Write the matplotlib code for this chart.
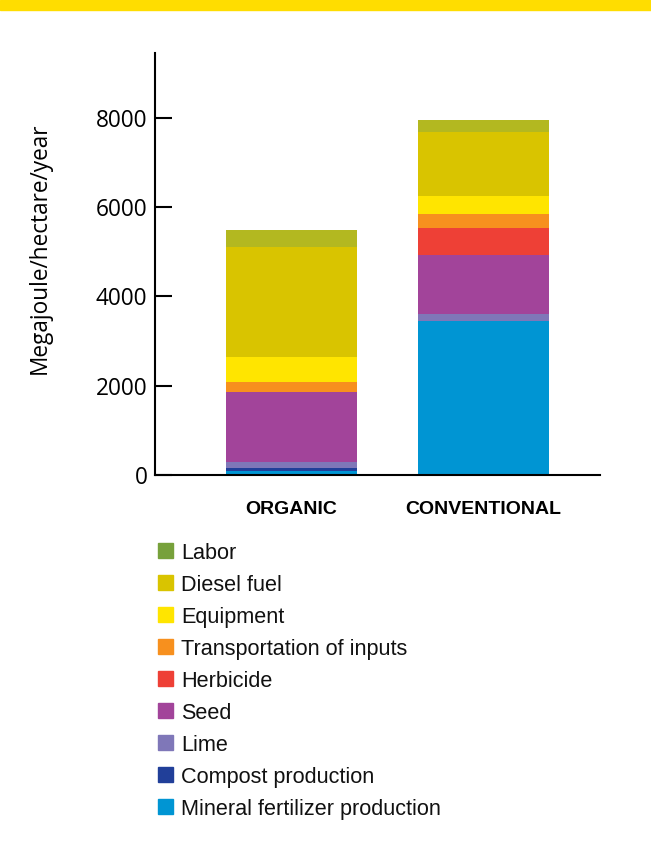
import matplotlib
matplotlib.use("Agg")
import matplotlib.pyplot as plt
from matplotlib.patches import Rectangle

categories = ["ORGANIC", "CONVENTIONAL"]
components = ["Mineral fertilizer production", "Compost production", "Lime", "Seed",
              "Herbicide", "Transportation of inputs", "Equipment", "Diesel fuel", "Labor"]
organic = [85, 70, 140, 1570, 0, 225, 560, 2450, 380]
conventional = [3440, 0, 160, 1330, 600, 315, 405, 1440, 270]
bar_colors = ["#0095d3", "#213f99", "#7f77b8", "#a2449a", "#ee4036", "#f7901e",
              "#ffe500", "#d9c400", "#b3b820"]
legend_colors = ["#0095d3", "#213f99", "#7f77b8", "#a2449a", "#ee4036", "#f7901e",
                 "#ffe500", "#d9c400", "#77a13b"]
yticks = [0, 2000, 4000, 6000, 8000]

W, H = 651, 849
fig = plt.figure(figsize=(W / 100, H / 100), dpi=100)
fig.patches.append(Rectangle((0, 1 - 10 / H), 1, 10 / H, transform=fig.transFigure,
                             color="#ffdd00", zorder=0))

ax = fig.add_axes([155 / W, 1 - 475 / H, (600 - 155) / W, (475 - 53) / H])
x = [0, 1]
bottoms = [0, 0]
for i, comp in enumerate(components):
    vals = [organic[i], conventional[i]]
    ax.bar(x, vals, width=0.68, bottom=bottoms, color=bar_colors[i], linewidth=0)
    bottoms = [b + v for b, v in zip(bottoms, vals)]

ax.set_xlim(-0.711, 1.607)
ax.set_ylim(0, 9450)
ax.spines["top"].set_visible(False)
ax.spines["right"].set_visible(False)
ax.spines["left"].set_linewidth(1.5)
ax.spines["bottom"].set_linewidth(1.5)
ax.set_yticks(yticks)
ax.set_yticklabels([str(t) for t in yticks], fontfamily="Open Sans", fontsize=16.3)
ax.tick_params(axis="y", direction="in", length=12, width=1.5, pad=5.5)
ax.set_xticks(x)
ax.set_xticklabels(categories, fontfamily="Liberation Sans", fontweight="bold", fontsize=14)
ax.tick_params(axis="x", length=0, pad=19)
ax.set_ylabel("Megajoule/hectare/year", fontfamily="Open Sans", fontsize=16.3)
ax.yaxis.set_label_coords(-(155 - 52) / 445, (475 - 248) / 422)

rows_y = [550, 582, 614, 646, 678, 710, 742, 774, 806]
for j, idx in enumerate(range(len(components) - 1, -1, -1)):
    yc = rows_y[j]
    fig.patches.append(Rectangle((158 / W, 1 - (yc + 7.5) / H), 15 / W, 15 / H,
                                 transform=fig.transFigure, color=legend_colors[idx]))
    fig.text(181 / W, 1 - (yc + 1) / H, components[idx], fontfamily="Liberation Sans",
             fontsize=15.6, va="center_baseline", ha="left", color="#111111")

fig.savefig("out.png", dpi=100)
